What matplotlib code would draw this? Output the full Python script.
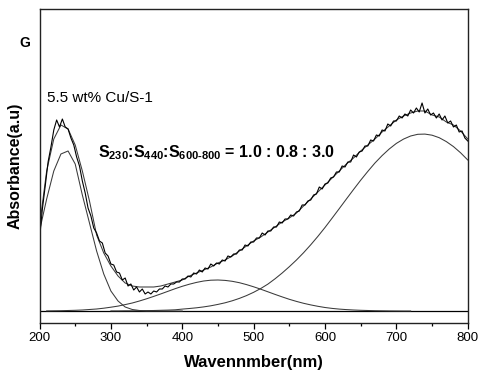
import numpy as np
import matplotlib
matplotlib.use('Agg')
import matplotlib.pyplot as plt

plt.rcParams['font.family'] = ['Liberation Sans', 'DejaVu Sans']
plt.rcParams['mathtext.fontset'] = 'custom'
plt.rcParams['mathtext.rm'] = 'Liberation Sans:bold'
plt.rcParams['mathtext.it'] = 'Liberation Sans:bold'
plt.rcParams['mathtext.bf'] = 'Liberation Sans:bold'

# measured spectrum (a.u.), 4 nm steps from 200 to 800 nm
wl_spec = np.arange(200, 801, 4)
absorb = [0.72, 1.02, 1.25, 1.49, 1.64, 1.81, 1.91, 1.84, 1.92, 1.84,
          1.82, 1.73, 1.66, 1.54, 1.45, 1.30, 1.18, 1.03, 0.95, 0.83,
          0.78, 0.70, 0.68, 0.58, 0.55, 0.47, 0.46, 0.39, 0.38, 0.31,
          0.33, 0.25, 0.27, 0.21, 0.24, 0.19, 0.22, 0.17, 0.19, 0.17,
          0.20, 0.19, 0.22, 0.22, 0.25, 0.24, 0.27, 0.27, 0.29, 0.29,
          0.32, 0.32, 0.35, 0.34, 0.38, 0.37, 0.41, 0.39, 0.43, 0.42,
          0.47, 0.45, 0.48, 0.47, 0.51, 0.50, 0.55, 0.54, 0.57, 0.57,
          0.61, 0.61, 0.66, 0.65, 0.69, 0.69, 0.73, 0.73, 0.78, 0.76,
          0.80, 0.80, 0.84, 0.84, 0.89, 0.88, 0.92, 0.92, 0.96, 0.95,
          0.99, 1.00, 1.06, 1.06, 1.10, 1.11, 1.16, 1.17, 1.24, 1.22,
          1.27, 1.28, 1.33, 1.34, 1.39, 1.39, 1.45, 1.44, 1.49, 1.49,
          1.56, 1.54, 1.59, 1.60, 1.65, 1.65, 1.71, 1.70, 1.76, 1.75,
          1.81, 1.80, 1.87, 1.85, 1.90, 1.90, 1.95, 1.93, 1.97, 1.95,
          2.01, 1.98, 2.03, 1.99, 2.08, 1.98, 2.02, 1.96, 1.98, 1.93,
          1.97, 1.91, 1.95, 1.88, 1.90, 1.84, 1.86, 1.79, 1.80, 1.73,
          1.70]

# fitted curves, 10 nm steps
wl_fit = np.arange(200, 801, 10)
fit_sum = [0.85, 1.40, 1.72, 1.86, 1.82, 1.66, 1.40, 1.10, 0.76, 0.58,
           0.45, 0.35, 0.28, 0.25, 0.24, 0.24, 0.24, 0.25, 0.27, 0.29,
           0.31, 0.35, 0.38, 0.41, 0.44, 0.48, 0.51, 0.55, 0.60, 0.65,
           0.70, 0.74, 0.79, 0.84, 0.89, 0.93, 0.98, 1.05, 1.12, 1.19,
           1.26, 1.33, 1.40, 1.47, 1.53, 1.60, 1.66, 1.72, 1.79, 1.85,
           1.91, 1.95, 1.98, 2.00, 2.00, 1.96, 1.94, 1.89, 1.86, 1.80,
           1.72]

wl_c1 = np.arange(200, 401, 10)
peak_230 = [0.80, 1.12, 1.40, 1.57, 1.60, 1.47, 1.16, 0.88, 0.60, 0.37,
            0.20, 0.10, 0.04, 0.015, 0.005, 0.0, 0.0, 0.0, 0.0, 0.0, 0.0]

wl_c2 = np.arange(210, 721, 10)
peak_440 = [0.001, 0.002, 0.003, 0.005, 0.007, 0.010, 0.015, 0.020, 0.028, 0.038,
            0.049, 0.064, 0.080, 0.100, 0.122, 0.146, 0.171, 0.197, 0.223, 0.247,
            0.268, 0.286, 0.300, 0.308, 0.310, 0.306, 0.297, 0.283, 0.264, 0.242,
            0.218, 0.192, 0.166, 0.141, 0.117, 0.096, 0.077, 0.061, 0.047, 0.035,
            0.026, 0.019, 0.014, 0.010, 0.007, 0.005, 0.003, 0.002, 0.001, 0.0005,
            0.0, 0.0]

wl_c3 = np.arange(300, 801, 10)
peak_700 = [0.001, 0.001, 0.002, 0.002, 0.003, 0.004, 0.005, 0.007, 0.009, 0.012,
            0.019, 0.025, 0.032, 0.041, 0.052, 0.066, 0.082, 0.102, 0.126, 0.154,
            0.187, 0.225, 0.269, 0.322, 0.380, 0.443, 0.510, 0.583, 0.662, 0.746,
            0.835, 0.929, 1.024, 1.120, 1.215, 1.308, 1.396, 1.480, 1.554, 1.620,
            1.676, 1.719, 1.750, 1.767, 1.769, 1.758, 1.733, 1.694, 1.644, 1.582,
            1.510]

fig = plt.figure(figsize=(4.79, 3.75), dpi=100)
ax = fig.add_axes([0.0825, 0.14, 0.894, 0.8347])

fitc = '#3a3a3a'
ax.axhline(0, color='black', lw=0.9)
ax.plot(wl_c1, peak_230, color=fitc, lw=0.75)
ax.plot(wl_c2, peak_440, color=fitc, lw=0.75)
ax.plot(wl_c3, peak_700, color=fitc, lw=0.75)
ax.plot(wl_fit, fit_sum, color=fitc, lw=0.75)
ax.plot(wl_spec, absorb, color='black', lw=0.8)

ax.set_xlim(200, 800)
ax.set_ylim(-0.115, 3.015)
ax.set_xticks([200, 300, 400, 500, 600, 700, 800])
ax.set_xticks(np.arange(250, 800, 100), minor=True)
ax.tick_params(axis='x', which='major', direction='out', length=4, width=0.9,
               labelsize=9.5, pad=3)
ax.tick_params(axis='x', which='minor', direction='out', length=2.5, width=0.9)
ax.set_yticks([])
for s in ax.spines.values():
    s.set_linewidth(1.0)
    s.set_color('#222222')

ax.set_xlabel('Wavennmber(nm)', fontsize=12, fontweight='bold', labelpad=8)
ax.set_ylabel('Absorbance(a.u)', fontsize=11.5, fontweight='bold', labelpad=12)

fig.text(25 / 479, 1 - 43 / 375, 'G', fontsize=10, fontweight='bold',
         ha='center', va='center')
fig.text(47 / 479, 1 - 98 / 375, '5.5 wt% Cu/S-1', fontsize=11,
         ha='left', va='center')
fig.text(98 / 479, 1 - 153 / 375,
         r'$S_{230}$:$S_{440}$:$S_{600‐800}$ = 1.0 : 0.8 : 3.0',
         fontsize=11.5, fontweight='bold', ha='left', va='center')

fig.savefig('out.png', dpi=100)
